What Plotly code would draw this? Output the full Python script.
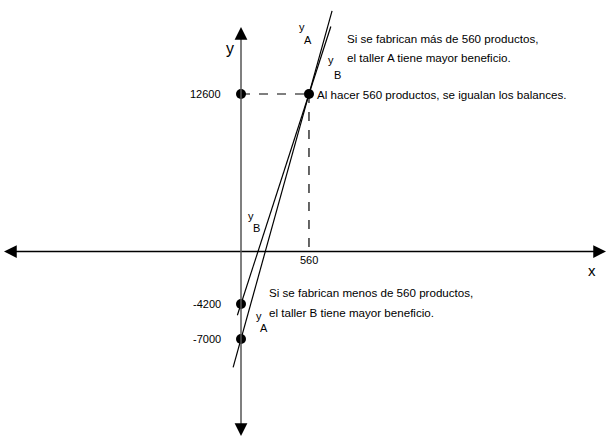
import plotly.graph_objects as go

# ---- data ----
line_a_x = [-65, 750]
line_a_y = [-9275, 19250]
line_b_x = [-30, 740]
line_b_y = [-5100, 18000]
point_x = [0, 560, 0, 0]
point_y = [12600, 12600, -4200, -7000]
y_tick_vals = [12600, -4200, -7000]
y_tick_text = ["12600", "-4200", "-7000"]
x_tick_vals = [560]
x_tick_text = ["560"]

W, H = 608, 436
X0PX, SX = 241, 0.1214
Y0PX, SY = 251.5, 0.0125
xr = [(0 - X0PX) / SX, (W - X0PX) / SX]
yr = [(Y0PX - H) / SY, (Y0PX - 0) / SY]

def px2x(p):
    return (p - X0PX) / SX

def py2y(p):
    return (Y0PX - p) / SY

FONT = "Liberation Sans, Arial, sans-serif"
TS = 11.6

fig = go.Figure()

fig.add_trace(go.Scatter(x=line_a_x, y=line_a_y, mode="lines",
                         line=dict(color="black", width=1.2), hoverinfo="skip"))
fig.add_trace(go.Scatter(x=line_b_x, y=line_b_y, mode="lines",
                         line=dict(color="black", width=1.2), hoverinfo="skip"))

# dashed guides
fig.add_shape(type="line", x0=0, y0=point_y[1], x1=point_x[1], y1=point_y[1],
              line=dict(color="black", width=1.2, dash="dash"))
fig.add_shape(type="line", x0=point_x[1], y0=point_y[1], x1=point_x[1], y1=0,
              line=dict(color="black", width=1.2, dash="dash"))

# axes
fig.add_shape(type="line", x0=px2x(10), y0=0, x1=px2x(603), y1=0,
              line=dict(color="black", width=1.5))
fig.add_shape(type="line", x0=0, y0=py2y(30), x1=0, y1=py2y(432),
              line=dict(color="#555555", width=1.5))

fig.add_trace(go.Scatter(x=point_x, y=point_y, mode="markers",
                         marker=dict(color="black", size=10), hoverinfo="skip"))

ann = []
# arrowheads
for (tx, ty, ax, ay) in [(px2x(606), 0, -12, 0), (px2x(4), 0, 12, 0),
                         (0, py2y(27), 0, 12), (0, py2y(436), 0, -12)]:
    ann.append(dict(x=tx, y=ty, xref="x", yref="y", ax=ax, ay=ay, showarrow=True,
                    arrowhead=2, arrowsize=1.7, arrowwidth=1.5, arrowcolor="black", text=""))

for v, t in zip(y_tick_vals, y_tick_text):
    ann.append(dict(x=px2x(223), y=v, xref="x", yref="y", text=t, showarrow=False,
                    xanchor="right", yanchor="middle", font=dict(size=11, color="black", family=FONT)))
for v, t in zip(x_tick_vals, x_tick_text):
    ann.append(dict(x=v, y=py2y(252), xref="x", yref="y", text=t, showarrow=False,
                    xanchor="center", yanchor="top", font=dict(size=11, color="black", family=FONT)))

def ptext(px, py, t, size=TS, xanchor="left"):
    ann.append(dict(x=px / W, y=1 - py / H, xref="paper", yref="paper", text=t, showarrow=False,
                    xanchor=xanchor, yanchor="middle", font=dict(size=size, color="black", family=FONT)))

ptext(230, 48, "y", 16, "center")
ptext(592, 270, "x", 15, "center")

# line labels
for (px, py, s) in [(302, 27, "y"), (308, 40, "A"), (331, 60, "y"), (337, 75, "B"),
                    (251, 216, "y"), (256, 228, "B"), (259, 316, "y"), (264, 328, "A")]:
    ptext(px, py, s, 11, "center")

ptext(345, 38, "Si se fabrican más de 560 productos,")
ptext(345, 58, "el taller A tiene mayor beneficio.")
ptext(315, 95, "Al hacer 560 productos, se igualan los balances.")
ptext(267, 292, "Si se fabrican menos de 560 productos,")
ptext(267, 312, "el taller B tiene mayor beneficio.")

fig.update_layout(
    width=W, height=H, margin=dict(l=0, r=0, t=0, b=0),
    plot_bgcolor="white", paper_bgcolor="white", showlegend=False,
    xaxis=dict(range=xr, visible=False, fixedrange=True),
    yaxis=dict(range=yr, visible=False, fixedrange=True),
    annotations=ann,
)

fig.write_html("out.html", config={"displayModeBar": False},
               post_script="document.body.style.margin='0px';document.body.style.overflow='hidden';")
